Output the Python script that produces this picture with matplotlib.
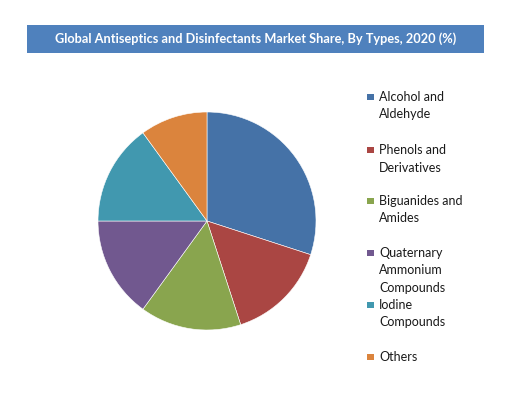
import matplotlib
matplotlib.use('Agg')
import matplotlib.pyplot as plt
from matplotlib.patches import Rectangle

W, H = 516, 394

types = ["Alcohol and\nAldehyde", "Phenols and\nDerivatives", "Biguanides and\nAmides",
         "Quaternary\nAmmonium\nCompounds", "Iodine\nCompounds", "Others"]
shares = [30, 15, 15, 15, 15, 10]
colors = ["#4572A7", "#AA4643", "#89A54E", "#71588F", "#4198AF", "#DB843D"]
title = "Global Antiseptics and Disinfectants Market Share, By Types, 2020 (%)"

plt.rcParams['font.family'] = ['Lato', 'DejaVu Sans']

fig = plt.figure(figsize=(W / 100, H / 100), dpi=100)

# title banner
fig.patches.append(Rectangle((27 / W, (H - 53) / H), (484 - 27) / W, 28 / H,
                             transform=fig.transFigure, facecolor="#4F81BD",
                             edgecolor="none"))
fig.text(255.5 / W, (H - 39) / H, title, color="white", fontsize=9.2,
         fontweight="bold", ha="center", va="center")

# pie
cx, cy = 207, H - 221
ax = fig.add_axes([(cx - 110) / W, (cy - 110) / H, 220 / W, 220 / H])
ax.pie(shares, colors=colors, startangle=90, counterclock=False, radius=1.09,
       wedgeprops=dict(edgecolor="white", linewidth=0.4))
ax.set_xlim(-1.1, 1.1)
ax.set_ylim(-1.1, 1.1)
ax.set_aspect("equal")
ax.axis("off")

# legend, drawn by hand to follow the original spacing
first_rows = [97, 150, 201, 253, 305, 357]
line_h = 17.5
for lab, col, y in zip(types, colors, first_rows):
    fig.patches.append(Rectangle((367 / W, (H - y - 3) / H), 6.5 / W, 6.5 / H,
                                 transform=fig.transFigure, facecolor=col,
                                 edgecolor="none"))
    for i, line in enumerate(lab.split("\n")):
        fig.text(379 / W, (H - y - i * line_h) / H, line, fontsize=9,
                 color="#1a1a1a", ha="left", va="center")

fig.savefig("out.png", dpi=100)
